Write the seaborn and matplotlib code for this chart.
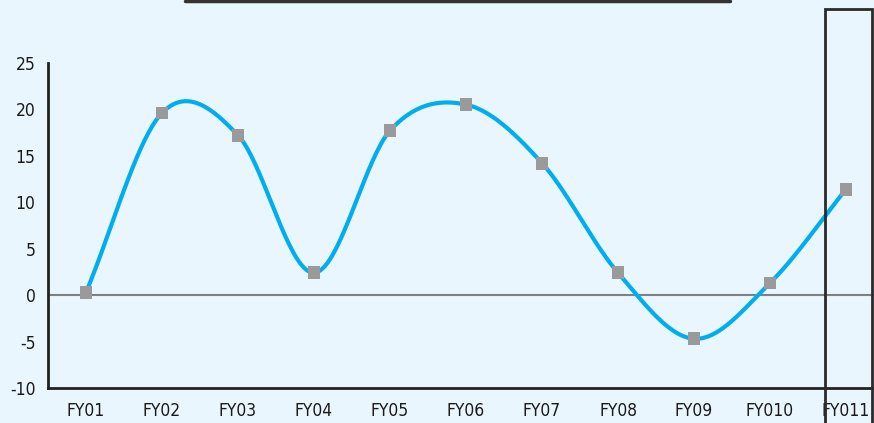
import numpy as np
import pandas as pd
import matplotlib
matplotlib.use("Agg")
import matplotlib.pyplot as plt
from matplotlib.lines import Line2D
from matplotlib.patches import Rectangle
import seaborn as sns

# Year-on-year growth (%) by fiscal year
years = ["FY01", "FY02", "FY03", "FY04", "FY05", "FY06",
         "FY07", "FY08", "FY09", "FY010", "FY011"]
growth = [0.3, 19.6, 17.2, 2.4, 17.7, 20.5, 14.2, 2.4, -4.7, 1.3, 11.4]

df = pd.DataFrame({"year": years, "growth": growth, "pos": np.arange(len(years))})

BG = "#EAF6FE"
LINE = "#00AEEF"
MARK = "#9A9A9A"

sns.set_theme(style="white")
plt.rcParams["font.family"] = ["DejaVu Sans"]
plt.rcParams["font.stretch"] = "condensed"
plt.rcParams["axes.unicode_minus"] = False


def catmull_rom(x, y, n=40):
    """Smooth curve through the points (Catmull-Rom, like spreadsheet smoothing)."""
    x = np.asarray(x, float)
    y = np.asarray(y, float)
    px = np.concatenate([[2 * x[0] - x[1]], x, [2 * x[-1] - x[-2]]])
    py = np.concatenate([[2 * y[0] - y[1]], y, [2 * y[-1] - y[-2]]])
    xs, ys = [], []
    t = np.linspace(0, 1, n)
    for i in range(1, len(px) - 2):
        for arr_p, out in ((px, xs), (py, ys)):
            p0, p1, p2, p3 = arr_p[i - 1:i + 3]
            out.append(0.5 * ((2 * p1) + (-p0 + p2) * t
                              + (2 * p0 - 5 * p1 + 4 * p2 - p3) * t ** 2
                              + (-p0 + 3 * p1 - 3 * p2 + p3) * t ** 3))
    return np.concatenate(xs), np.concatenate(ys)


fig = plt.figure(figsize=(8.74, 4.23), dpi=100, facecolor=BG)
W, H = 874, 423
left, right, top, bottom = 48, 884, 62.8, 388
ax = fig.add_axes([left / W, 1 - bottom / H, (right - left) / W, (bottom - top) / H])
ax.set_facecolor(BG)

ax.axhline(0, color="#808080", lw=1.5, zorder=1)

sx, sy = catmull_rom(df["pos"], df["growth"])
ax.plot(sx, sy, color=LINE, lw=3, zorder=2, solid_capstyle="round")
sns.scatterplot(data=df, x="pos", y="growth", marker="s", s=85, color=MARK,
                edgecolor="none", ax=ax, zorder=3, legend=False)

ax.set_xlim(-0.5, len(years) - 0.5)
ax.set_ylim(-10, 25)
ax.set_yticks(range(-10, 26, 5))
ax.set_xticks(df["pos"])
ax.set_xticklabels(years)
ax.set_xlabel("")
ax.set_ylabel("")
ax.tick_params(axis="both", length=0, labelsize=12.5, colors="#1a1a1a")
ax.tick_params(axis="y", pad=9)
ax.tick_params(axis="x", pad=10)

for side in ("top", "right"):
    ax.spines[side].set_visible(False)
for side in ("left", "bottom"):
    ax.spines[side].set_color("#222222")
    ax.spines[side].set_linewidth(2)

# highlight frame around the latest year
fig.add_artist(Rectangle((825 / W, -0.02), 47 / W, 1.02 - 9 / H,
                         transform=fig.transFigure, fill=False,
                         edgecolor="#2a2a2a", lw=2, zorder=10))

# rule along the top edge
fig.add_artist(Line2D([185 / W, 730 / W], [1 - 1.5 / H, 1 - 1.5 / H],
                      transform=fig.transFigure, color="#333333", lw=2.5))

fig.savefig("out.png", dpi=100, facecolor=BG)
